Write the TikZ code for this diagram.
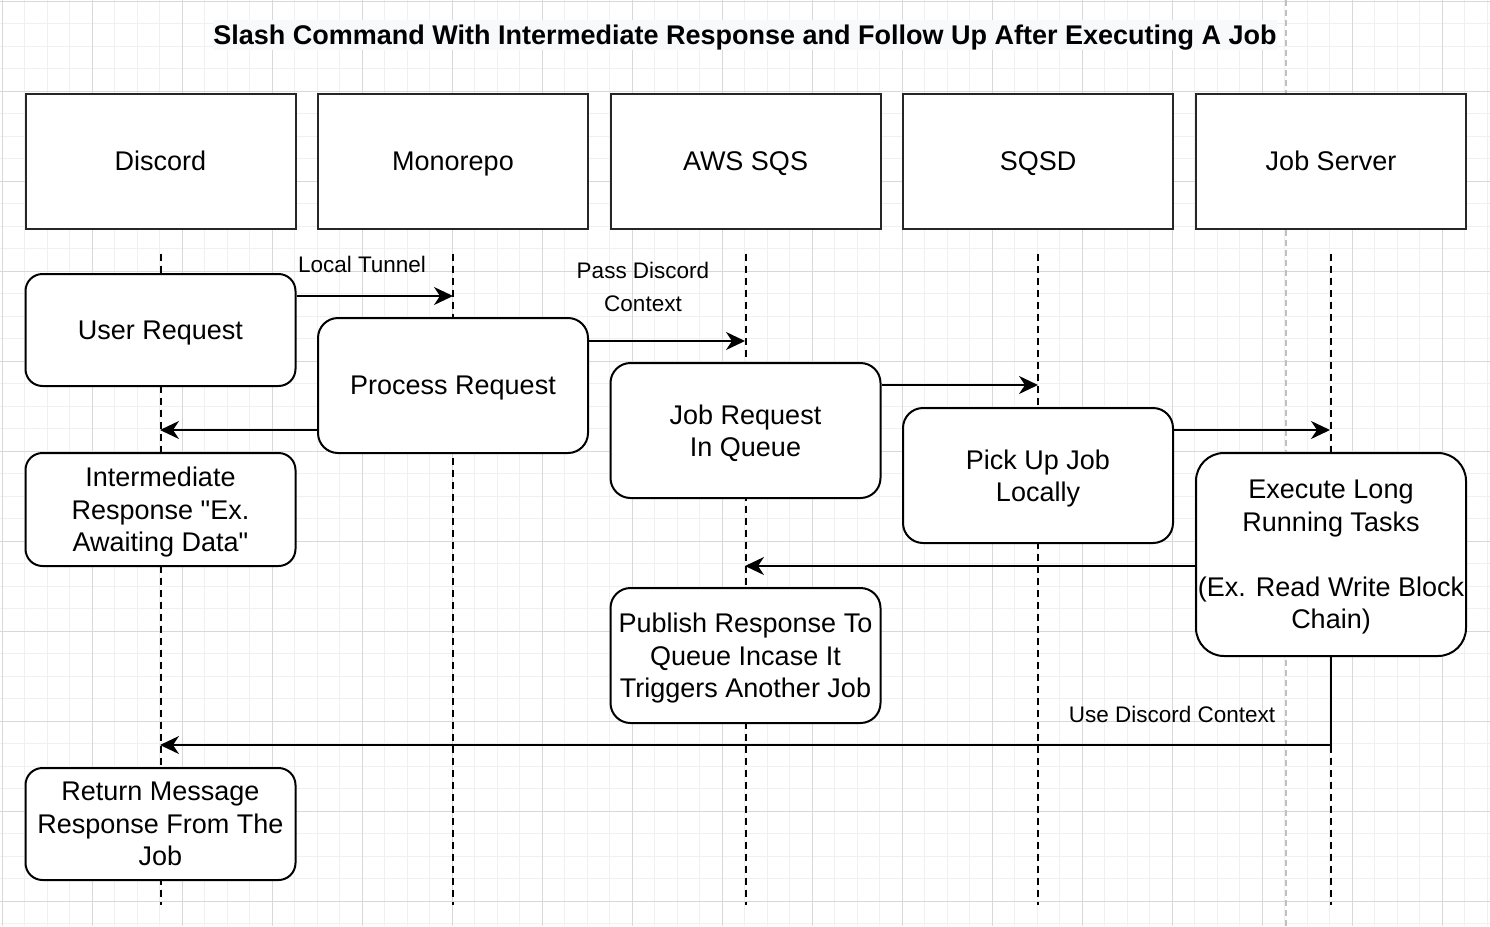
\documentclass[tikz,border=0pt]{standalone}
\usepackage{fontspec}
\setmainfont{Liberation Sans}[Ligatures=TeXOff]
\usetikzlibrary{arrows.meta}
\definecolor{minorgrid}{HTML}{F0F0F0}
\definecolor{majorgrid}{HTML}{D8D8D8}
\definecolor{titlebg}{HTML}{F8F9FA}
\definecolor{pagebreak}{HTML}{C0C0C0}
\begin{document}
\begin{tikzpicture}[x=1pt,y=-1pt,
  mingrid/.style={minorgrid, line width=1pt},
  majgrid/.style={majorgrid, line width=1pt},
  hdr/.style={draw=black!85, line width=2pt, fill=white, minimum width=270pt, minimum height=135pt, inner sep=0pt, text height=19.4pt, text depth=0pt, font=\fontsize{27}{32.4}\selectfont},
  act/.style={draw=black, line width=2pt, fill=white, rounded corners=#1, minimum width=270pt, inner sep=0pt, align=center, text depth=0pt, font=\fontsize{27}{32.4}\selectfont},
  act/.default=18pt,
  life/.style={black, line width=2pt, dash pattern=on 7pt off 5pt},
  arr/.style={black, line width=2pt, -{Stealth[length=19pt,width=18pt,inset=6pt]}},
  lbl/.style={inner sep=0pt, align=center, font=\fontsize{22.5}{33}\selectfont},
]
\useasboundingbox (0,0) rectangle (1490,926);
\clip (0,0) rectangle (1490,926);
\fill[white] (0,0) rectangle (1490,926);
% grid
\foreach \i in {0,...,66} {
  \pgfmathsetmacro\xx{2+22.5*\i}
  \draw[mingrid] (\xx,0) -- (\xx,926);
}
\foreach \j in {0,...,41} {
  \pgfmathsetmacro\yy{1+22.5*\j}
  \draw[mingrid] (0,\yy) -- (1490,\yy);
}
\foreach \i in {0,...,16} {
  \pgfmathsetmacro\xx{2+90*\i}
  \draw[majgrid] (\xx,0) -- (\xx,926);
}
\foreach \j in {0,...,10} {
  \pgfmathsetmacro\yy{1+90*\j}
  \draw[majgrid] (0,\yy) -- (1490,\yy);
}
% page break line
\draw[pagebreak, line width=1.5pt, dash pattern=on 6pt off 4pt] (1286,0) -- (1286,926);

% title
\node[fill=titlebg, inner sep=0pt, minimum width=1064pt, minimum height=30pt, text height=19.4pt, text depth=0pt, font=\fontsize{27}{32}\selectfont\bfseries] (title) at (745,34.5) {Slash Command With Intermediate Response and Follow Up After Executing A Job};

% headers
\node[hdr] (hd) at (160.5,161) {Discord};
\node[hdr] (hm) at (453,161) {Monorepo};
\node[hdr] (hq) at (745.5,161) {AWS SQS};
\node[hdr] (hs) at (1038,161) {SQSD};
\node[hdr] (hj) at (1331,161) {Job Server};

% lifelines
\foreach \h in {hd,hm,hq,hs,hj} {
  \draw[life] ([yshift=-24pt]\h.south) -- ([yshift=-675pt]\h.south);
}

% activation boxes
\node[act=17pt, minimum height=112pt] (ur) at (160.5,330) {User Request};
\node[act=20pt, minimum height=135pt] (pr) at (453,385.5) {Process Request};
\node[act=20pt, minimum height=135pt] (jq) at (745.5,430.5) {Job Request\\In Queue};
\node[act=20pt, minimum height=135pt] (pu) at (1038,475.5) {Pick Up Job\\Locally};
\node[act=28pt, minimum height=203pt] (ex) at (1331,554.5) {Execute Long\\Running Tasks\\[32.4pt](Ex. Read Write Block\\Chain)};
\node[act=17pt, minimum height=113pt] (ir) at (160.5,509.5) {Intermediate\\Response "Ex.\\Awaiting Data"};
\node[act=20pt, minimum height=135pt] (pb) at (745.5,655.5) {Publish Response To\\Queue Incase It\\Triggers Another Job};
\node[act=17pt, minimum height=112pt] (rm) at (160.5,824) {Return Message\\Response From The\\Job};

% arrow end points on lifelines
\coordinate (a1) at (453,296);
\coordinate (a2) at (745,341);
\coordinate (a3) at (1038,385);
\coordinate (a4) at (1330,430);
\coordinate (a5) at (160,430);
\coordinate (a6) at (745,566);
\coordinate (a7) at (160,745);

\draw[arr] (ur.east |- a1) -- (a1);
\draw[arr] (pr.east |- a2) -- (a2);
\draw[arr] (jq.east |- a3) -- (a3);
\draw[arr] (pu.east |- a4) -- (a4);
\draw[arr] (pr.west |- a5) -- (a5);
\draw[arr] (ex.west |- a6) -- (a6);
\draw[arr] (ex.south) |- (a7);

% labels
\node[lbl] (l1) at (362,264) {Local Tunnel};
\node[lbl] (l2) at (643,287) {Pass Discord\\Context};
\node[lbl] (l3) at (1172,714) {Use Discord Context};
\end{tikzpicture}
\end{document}
